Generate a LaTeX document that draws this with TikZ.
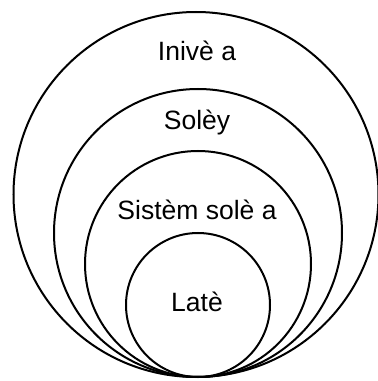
\documentclass[tikz,border=0pt]{standalone}
\usepackage{fontspec}
\setmainfont{Liberation Sans}

\begin{document}
\begin{tikzpicture}[x=1pt, y=1pt, line width=2pt,
    ring/.style = {draw, circle, inner sep=0pt},
    word/.style = {anchor=base, font=\fontsize{26.5}{30}\selectfont}]
    \useasboundingbox (0,0) rectangle (378,381);
    \node[ring, minimum size=365pt] (inive) at (196,186.5) {};
    \node[ring, minimum size=288pt] (soley) at (198,148) {};
    \node[ring, minimum size=226pt] (sistem) at (198,117) {};
    \node[ring, minimum size=144pt] (late) at (198,76) {};
    \node[word] (t1) at (197,320) {Inivè a};
    \node[word] (t2) at (197,251) {Solèy};
    \node[word] (t3) at (197,161) {Sistèm solè a};
    \node[word] (t4) at (197,69) {Latè};
\end{tikzpicture}
\end{document}
